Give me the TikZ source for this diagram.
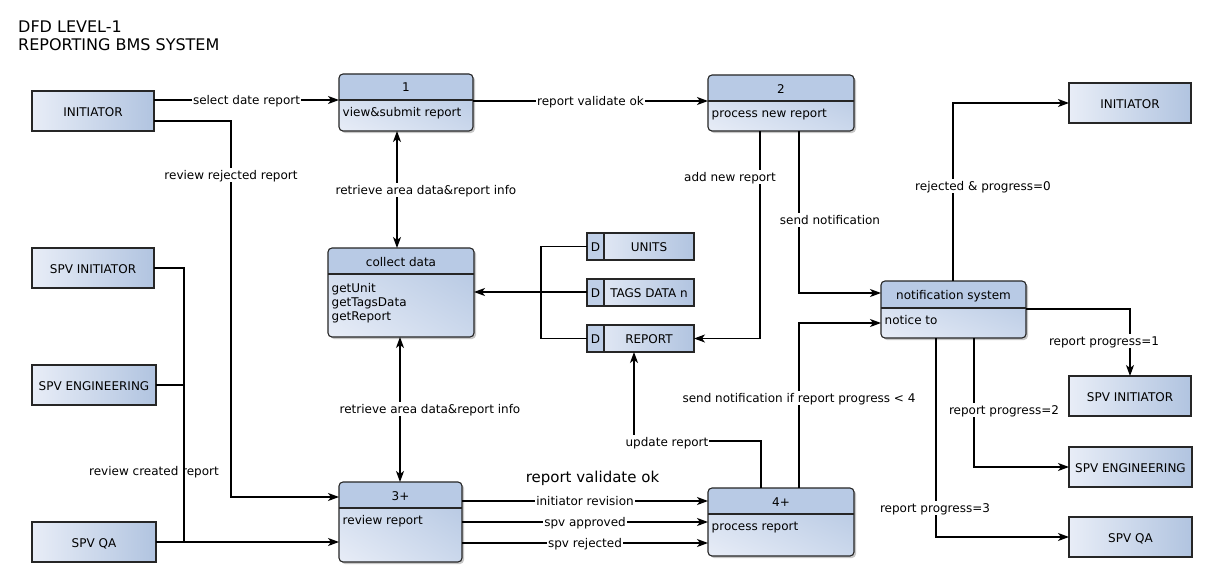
\documentclass[tikz,border=0pt]{standalone}
\usepackage{fontspec}
\setmainfont{DejaVu Sans}
\usetikzlibrary{arrows.meta,shadows,fit,shadings}
\definecolor{boxlight}{HTML}{E8EDF7}
\definecolor{boxdark}{HTML}{B1C4E0}
\definecolor{boxmid}{HTML}{CBD8EC}
\definecolor{hdrcol}{HTML}{B8CAE5}
\definecolor{dcell}{HTML}{BFCFE7}

\tikzset{
  boxline/.style={draw=black!85, line width=1.1pt},
  entityshape/.style={inner sep=0pt, outer sep=0pt, left color=boxlight, right color=boxdark, draw=black!85, line width=1.1pt},
  procshape/.style={inner sep=0pt, outer sep=0pt, rounded corners=4pt,
    lower left=boxlight, upper right=boxdark, upper left=boxmid, lower right=boxmid,
    drop shadow={shadow xshift=2pt, shadow yshift=-2pt, opacity=0.22, fill=black}},
  txt/.style={inner sep=1.5pt, text height=10pt, text depth=2pt},
  lbl/.style={fill=white, inner sep=1pt, text height=10pt, text depth=2pt},
  flow/.style={line width=1.1pt, -{Stealth[length=11pt,width=8pt,inset=3pt]}},
  biflow/.style={line width=1.1pt, {Stealth[length=11pt,width=8pt,inset=3pt]}-{Stealth[length=11pt,width=8pt,inset=3pt]}},
  plainline/.style={line width=1.1pt},
}

% name, x1, y1, x2, y2, ydiv, header, body
\newcommand\procbox[8]{%
  \node[procshape, fit={(#2,#3) (#4,#5)}] (#1) {};
  \begin{scope}
    \clip[rounded corners=4pt] (#2,#3) rectangle (#4,#5);
    \fill[hdrcol] (#2,#3) rectangle (#4,#6);
  \end{scope}
  \draw[boxline] (#2,#6) -- (#4,#6);
  \draw[boxline, rounded corners=4pt] (#2,#3) rectangle (#4,#5);
  \node[txt] at ({(#2+#4)/2},{(#3+#6)/2+1}) {#7};
  \node[txt, anchor=west] at ({#2+2},{#6+12.5}) {#8};
}
% name, x1, y1, x2, y2, text
\newcommand\entitybox[6]{%
  \node[entityshape, fit={(#2,#3) (#4,#5)}] (#1) {};
  \node[txt] at ({(#2+#4)/2},{(#3+#5)/2+1.5}) {#6};
}
% name, x1, y1, x2, y2, text
\newcommand\storebox[6]{%
  \node[entityshape, fit={(#2,#3) (#4,#5)}] (#1) {};
  \fill[dcell] (#2,#3) rectangle ({#2+17},#5);
  \draw[boxline] ({#2+17},#3) -- ({#2+17},#5);
  \draw[boxline] (#2,#3) rectangle (#4,#5);
  \node[txt] at ({#2+8.5},{(#3+#5)/2+1}) {D};
  \node[txt] at ({(#2+17+#4)/2},{(#3+#5)/2+1}) {#6};
}

\begin{document}
\begin{tikzpicture}[x=1pt, y=-1pt, every node/.style={font=\fontsize{12}{14}\selectfont}]
\useasboundingbox[fill=white] (0,0) rectangle (1208,578);

% title
\node[anchor=base west, inner sep=0pt, font=\fontsize{16}{18}\selectfont] (t1) at (18,32.3) {DFD LEVEL-1};
\node[anchor=base west, inner sep=0pt, font=\fontsize{16}{18}\selectfont] (t2) at (18,50.7) {REPORTING BMS SYSTEM};

% entities
\entitybox{e1}{32}{91}{154}{131}{INITIATOR}
\entitybox{e2}{32}{248}{154}{288}{SPV INITIATOR}
\entitybox{e3}{32}{365}{156}{405}{SPV ENGINEERING}
\entitybox{e4}{32}{522}{156}{562}{SPV QA}
\entitybox{r1}{1069}{83}{1191}{123}{INITIATOR}
\entitybox{r2}{1069}{376}{1191}{416}{SPV INITIATOR}
\entitybox{r3}{1069}{447}{1192}{487}{SPV ENGINEERING}
\entitybox{r4}{1069}{517}{1192}{557}{SPV QA}

% processes
\procbox{p1}{339}{74}{473}{131}{100}{1}{view\&submit report}
\procbox{p2}{708}{75}{854}{131}{101}{2}{process new report}
\procbox{ns}{881}{281}{1026}{338}{308}{notification system}{notice to}
\procbox{cd}{328}{248}{474}{337}{274}{collect data}{}
\node[txt, anchor=west] (cd1) at (330,288.3) {getUnit};
\node[txt, anchor=west] (cd2) at (330,302.5) {getTagsData};
\node[txt, anchor=west] (cd3) at (330,316.5) {getReport};
\procbox{p3}{339}{482}{462}{562}{508}{3+}{review report}
\procbox{p4}{708}{488}{854}{556}{514}{4+}{process report}

% stores
\storebox{s1}{587}{233}{694}{260}{UNITS}
\storebox{s2}{587}{279}{694}{306}{TAGS DATA n}
\storebox{s3}{587}{325}{694}{352}{REPORT}

% connectors
\draw[flow] (e1.east |- 0,100) -- node[lbl] {select date report} (p1.west |- 0,100);
\draw[flow] (e1.east |- 0,121) -- (231,121) -- (231,497) -- (p3.west |- 0,497);
\node[lbl] (l2) at (231,175) {review rejected report};
\draw[flow] (p1.east |- 0,101) -- node[lbl] {report validate ok} (p2.west |- 0,101);
\draw[biflow] (p1.south -| 397,0) -- (cd.north -| 397,0);
\node[lbl] (l4) at (426,190) {retrieve area data\&report info};
\draw[biflow] (cd.south -| 400,0) -- (p3.north -| 400,0);
\node[lbl] (l5) at (430,409) {retrieve area data\&report info};
\draw[flow] (s2.west |- 0,292) -- (cd.east |- 0,292);
\draw[plainline] (s1.west |- 0,246.5) -- (541,246.5) -- (541,338.5) -- (s3.west |- 0,338.5);
\draw[flow] (p2.south -| 760,0) -- (760,338.5) -- (s3.east |- 0,338.5);
\node[lbl] (l8) at (730,177) {add new report};
\draw[flow] (p2.south -| 799,0) -- (799,293) -- (ns.west |- 0,293);
\node[lbl] (l9) at (830,220) {send notification};
\draw[flow] (ns.north -| 953,0) -- (953,103) -- (r1.west |- 0,103);
\node[lbl] (l10) at (983,186) {rejected \& progress=0};
\draw[flow] (ns.east |- 0,309) -- (1130,309) -- (r2.north -| 1130,0);
\node[lbl] (l11) at (1104,341) {report progress=1};
\draw[flow] (ns.south -| 974,0) -- (974,467) -- (r3.west |- 0,467);
\node[lbl] (l12) at (1004,410) {report progress=2};
\draw[flow] (ns.south -| 936,0) -- (936,537) -- (r4.west |- 0,537);
\node[lbl] (l13) at (935,508) {report progress=3};
\draw[plainline] (e2.east |- 0,268) -- (184,268) -- (184,542);
\draw[plainline] (e3.east |- 0,385) -- (184,385);
\draw[flow] (e4.east |- 0,542) -- (p3.west |- 0,542);
\node[txt] (l14) at (154,471) {review created report};
\draw[flow] (p3.east |- 0,501) -- node[lbl] {initiator revision} (p4.west |- 0,501);
\draw[flow] (p3.east |- 0,522) -- node[lbl] {spv approved} (p4.west |- 0,522);
\draw[flow] (p3.east |- 0,543) -- node[lbl] {spv rejected} (p4.west |- 0,543);
\draw[flow] (p4.north -| 761,0) -- (761,441) -- (634,441) -- (s3.south -| 634,0);
\node[lbl] (l16) at (667,442) {update report};
\draw[flow] (p4.north -| 799,0) -- (799,323) -- (ns.west |- 0,323);
\node[lbl] (l17) at (799,398) {send notification if report progress < 4};
\node[anchor=base, inner sep=0pt, font=\fontsize{15}{17}\selectfont] (big) at (592.5,482) {report validate ok};
\end{tikzpicture}
\end{document}
